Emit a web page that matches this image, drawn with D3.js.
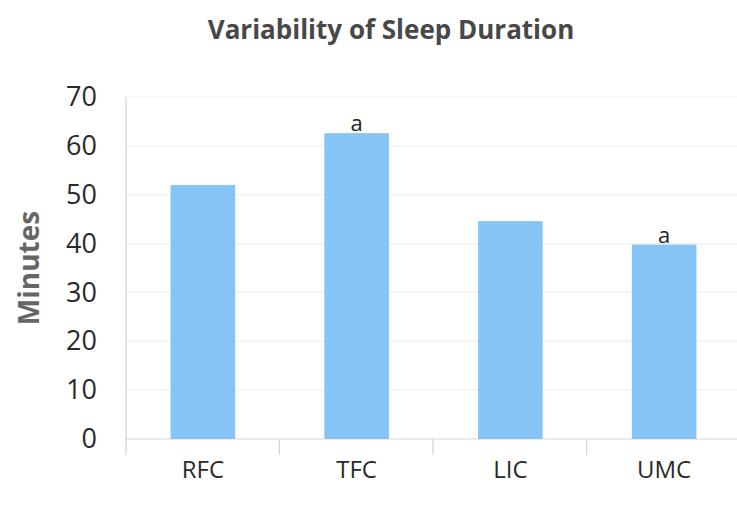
<!DOCTYPE html>
<meta charset="utf-8">
<head>
  <script src="https://d3js.org/d3.v7.min.js"></script>
  <style>
    body { margin: 0; background: #fff; }
    text { font-family: "Open Sans", "DejaVu Sans", sans-serif; }
  </style>
</head>
<body>
  <svg id="svg" width="737" height="505"></svg>
  <script>
    // data
    const categories = ["RFC", "TFC", "LIC", "UMC"];
    const minutes = [52, 62.6, 44.6, 39.8];
    const marks = ["", "a", "", "a"];
    const yTicks = [0, 10, 20, 30, 40, 50, 60, 70];

    const svg = d3.select("#svg");
    const plotLeft = 126, plotRight = 741, plotTop = 97, plotBottom = 439;

    const x = d3.scaleBand()
      .domain(categories)
      .range([plotLeft, plotRight])
      .paddingInner(0.58)
      .paddingOuter(0.29);

    const y = d3.scaleLinear()
      .domain([0, 70])
      .range([plotBottom, plotTop]);

    // faint gridlines
    svg.append("g")
      .selectAll("line")
      .data(yTicks)
      .enter().append("line")
      .attr("x1", plotLeft).attr("x2", plotRight)
      .attr("y1", d => y(d)).attr("y2", d => y(d))
      .attr("stroke", d => d == 0 ? "#d8d8d8" : "#efefef")
      .attr("stroke-width", 1.2);

    // y axis
    let yAxis = svg.append("g")
      .attr("transform", `translate(${plotLeft},0)`)
      .call(d3.axisLeft(y).tickValues(yTicks).tickSize(0).tickPadding(29));
    yAxis.select(".domain").attr("stroke", "#c8c8c8").attr("d", `M0,${plotTop}V${plotBottom + 16}`);
    yAxis.selectAll("text").attr("font-size", 27).attr("fill", "#2a2a2a");

    // category separators below baseline
    svg.append("g")
      .selectAll("line")
      .data(categories.slice(1))
      .enter().append("line")
      .attr("x1", d => x(d) - x.step() * x.paddingInner() / 2 - 0.5)
      .attr("x2", d => x(d) - x.step() * x.paddingInner() / 2 - 0.5)
      .attr("y1", plotBottom).attr("y2", plotBottom + 16)
      .attr("stroke", "#c8c8c8");

    // bars
    svg.append("g")
      .selectAll("rect")
      .data(categories)
      .enter().append("rect")
      .attr("x", d => x(d))
      .attr("width", x.bandwidth())
      .attr("y", (d, i) => y(minutes[i]))
      .attr("height", (d, i) => plotBottom - y(minutes[i]))
      .attr("fill", "#85c4f5");

    // significance letters
    svg.append("g")
      .selectAll("text")
      .data(categories)
      .enter().append("text")
      .attr("x", d => x(d) + x.bandwidth() / 2)
      .attr("y", (d, i) => y(minutes[i]) - 2)
      .attr("text-anchor", "middle")
      .attr("font-size", 22)
      .attr("fill", "#222")
      .text((d, i) => marks[i]);

    // x labels
    svg.append("g")
      .selectAll("text")
      .data(categories)
      .enter().append("text")
      .attr("x", d => x(d) + x.bandwidth() / 2)
      .attr("y", 478)
      .attr("text-anchor", "middle")
      .attr("font-size", 24)
      .attr("fill", "#2a2a2a")
      .text(d => d);

    // title
    svg.append("text")
      .attr("x", 391).attr("y", 39)
      .attr("text-anchor", "middle")
      .attr("font-size", 26)
      .attr("font-weight", "bold")
      .attr("fill", "#484848")
      .text("Variability of Sleep Duration");

    // y label
    svg.append("text")
      .attr("transform", "translate(39,268) rotate(-90)")
      .attr("text-anchor", "middle")
      .attr("font-size", 28)
      .attr("font-weight", "bold")
      .attr("fill", "#666")
      .text("Minutes");
  </script>
</body>
